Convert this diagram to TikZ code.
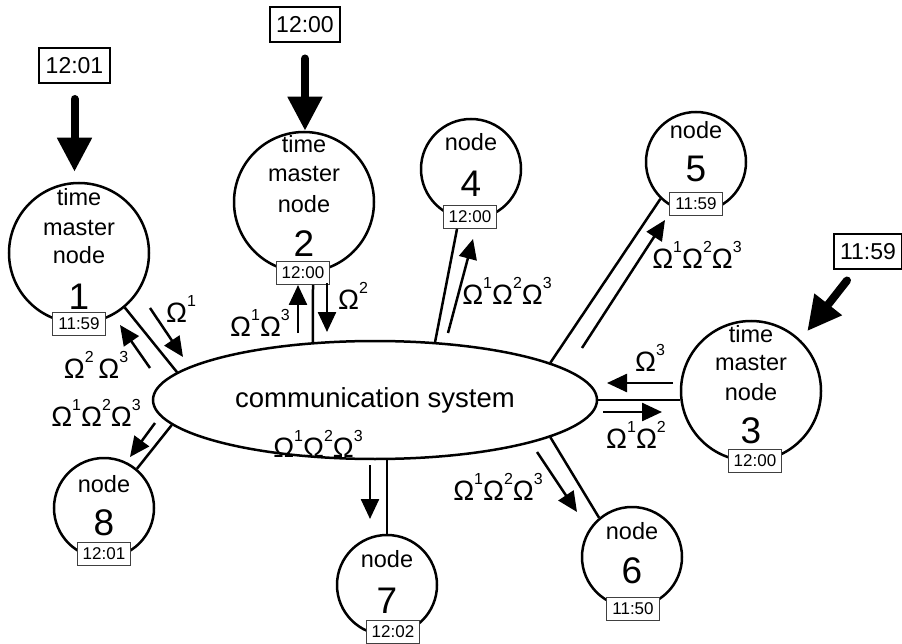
\documentclass[tikz,border=0pt]{standalone}
\usepackage{fontspec}
\setmainfont{Liberation Sans}
\usetikzlibrary{arrows.meta,shapes.geometric}
\newcommand\omg[1]{Ω\raisebox{0.58em}{\fontsize{16}{16}\selectfont #1}}
\tikzset{
  every node/.style={inner sep=0pt},
  bignode/.style={circle, draw, line width=2.5pt, minimum size=140pt},
  smallnode/.style={circle, draw, line width=2.5pt, minimum size=100pt},
  clock/.style={draw=black!75, line width=1pt, fill=white, font=\fontsize{17}{17}\selectfont, inner xsep=5.5pt, minimum height=23pt},
  topclock/.style={draw, line width=2pt, fill=white, font=\fontsize{23}{23}\selectfont, inner xsep=6.5pt, minimum height=35pt},
  lbl/.style={anchor=base, font=\fontsize{23.5}{23.5}\selectfont},
  num/.style={anchor=base, font=\fontsize{37}{37}\selectfont},
  om/.style={font=\fontsize{28}{28}\selectfont},
  link/.style={line width=2.5pt},
  flow/.style={line width=2.5pt, -{Triangle[length=20pt,width=18pt]}},
  bigarrow/.style={line width=8pt, line cap=round, -{Triangle[length=34pt,width=33pt]}},
}
\begin{document}
\begin{tikzpicture}[x=1pt,y=-1pt]
\useasboundingbox (0,0) rectangle (902,644);
% communication system
\node[ellipse, draw, line width=2.5pt, minimum width=444pt, minimum height=118pt,
      font=\fontsize{27.5}{27.5}\selectfont] (ell) at (375,400) {communication system};
% nodes
\node[bignode] (n1) at (79,253) {};
\node[bignode] (n2) at (304,202) {};
\node[bignode] (n3) at (751,391) {};
\node[smallnode] (n4) at (471,169) {};
\node[smallnode] (n5) at (696,162) {};
\node[smallnode] (n6) at (632,557) {};
\node[smallnode] (n7) at (387,585) {};
\node[smallnode] (n8) at (104,508) {};
% node texts
\node[lbl] (n1a) at (79,206) {time};
\node[lbl] (n1b) at (79,236) {master};
\node[lbl] (n1c) at (79,264) {node};
\node[num] (n1d) at (79,309) {1};
\node[lbl] (n2a) at (304,153) {time};
\node[lbl] (n2b) at (304,182) {master};
\node[lbl] (n2c) at (304,213) {node};
\node[num] (n2d) at (304,257) {2};
\node[lbl] (n3a) at (751,342) {time};
\node[lbl] (n3b) at (751,370) {master};
\node[lbl] (n3c) at (751,400) {node};
\node[num] (n3d) at (751,443) {3};
\node[lbl] (n4a) at (471,151) {node};
\node[num] (n4d) at (471,197) {4};
\node[lbl] (n5a) at (696,139) {node};
\node[num] (n5d) at (696,182) {5};
\node[lbl] (n6a) at (632,539) {node};
\node[num] (n6d) at (632,583) {6};
\node[lbl] (n7a) at (387,567) {node};
\node[num] (n7d) at (387,613) {7};
\node[lbl] (n8a) at (104,492) {node};
\node[num] (n8d) at (104,535) {8};
% local clocks
\node[clock] (c1) at (79,324) {11:59};
\node[clock] (c2) at (303,273) {12:00};
\node[clock] (c3) at (755,461) {12:00};
\node[clock] (c4) at (470,217) {12:00};
\node[clock] (c5) at (696,204) {11:59};
\node[clock] (c6) at (633,609) {11:50};
\node[clock] (c7) at (393,632) {12:02};
\node[clock] (c8) at (104,554) {12:01};
% external time
\node[topclock] (t1) at (74.5,65.5) {12:01};
\node[topclock] (t2) at (305,25) {12:00};
\node[topclock] (t3) at (868,252) {11:59};
\draw[bigarrow, shorten <=15pt, shorten >=10pt] (t1.south) -- (t1.south |- n1.north);
\draw[bigarrow, shorten <=15pt] (t2.south) -- (t2.south |- n2.north);
\draw[bigarrow, shorten >=11pt] ([xshift=-21pt,yshift=-10pt]t3.south) -- (n3.46);
% links
\draw[link] (n1.-50) -- (ell.172);
\draw[link] ([xshift=10pt]c2.south) -- (ell.137.6);
\draw[link] ([xshift=-13pt]c4.south) -- (ell.44.5);
\draw[link] (n5.-134) -- (ell.12);
\draw[link] (ell.east) -- (ell.east -| n3.west);
\draw[link] (ell.-12.7) -- (n6.130);
\draw[link] (n7.north) -- (n7.north |- ell.south);
\draw[link] (ell.187) -- (n8.50);
% message flows
\draw[flow] (150,308) -- (183,357);
\draw[flow] (150,368) -- (120,325);
\draw[flow] (155,423) -- (130,457);
\draw[flow] (298,333) -- (298,285);
\draw[flow] (327,283) -- (327,332);
\draw[flow] (448,333) -- (473,239);
\draw[flow] (582,348) -- (665,220);
\draw[flow] (673,383) -- (607,383);
\draw[flow] (603,412) -- (662,412);
\draw[flow] (537,452) -- (577,512);
\draw[flow] (370,465) -- (370,519);
% labels
\node[om] (o1) at (181,309) {\omg{1}};
\node[om] (o2) at (96,365) {\omg{2}\,\omg{3}};
\node[om] (o3) at (96,413) {\omg{1}\omg{2}\omg{3}};
\node[om] (o4) at (260,323) {\omg{1}\omg{3}};
\node[om] (o5) at (353,296) {\omg{2}};
\node[om] (o6) at (507,291) {\omg{1}\omg{2}\omg{3}};
\node[om] (o7) at (697,255) {\omg{1}\omg{2}\omg{3}};
\node[om] (o8) at (650,358) {\omg{3}};
\node[om] (o9) at (636,435) {\omg{1}\omg{2}};
\node[om] (o10) at (498,487) {\omg{1}\omg{2}\omg{3}};
\node[om] (o11) at (318,444) {\omg{1}\omg{2}\omg{3}};
\end{tikzpicture}
\end{document}
